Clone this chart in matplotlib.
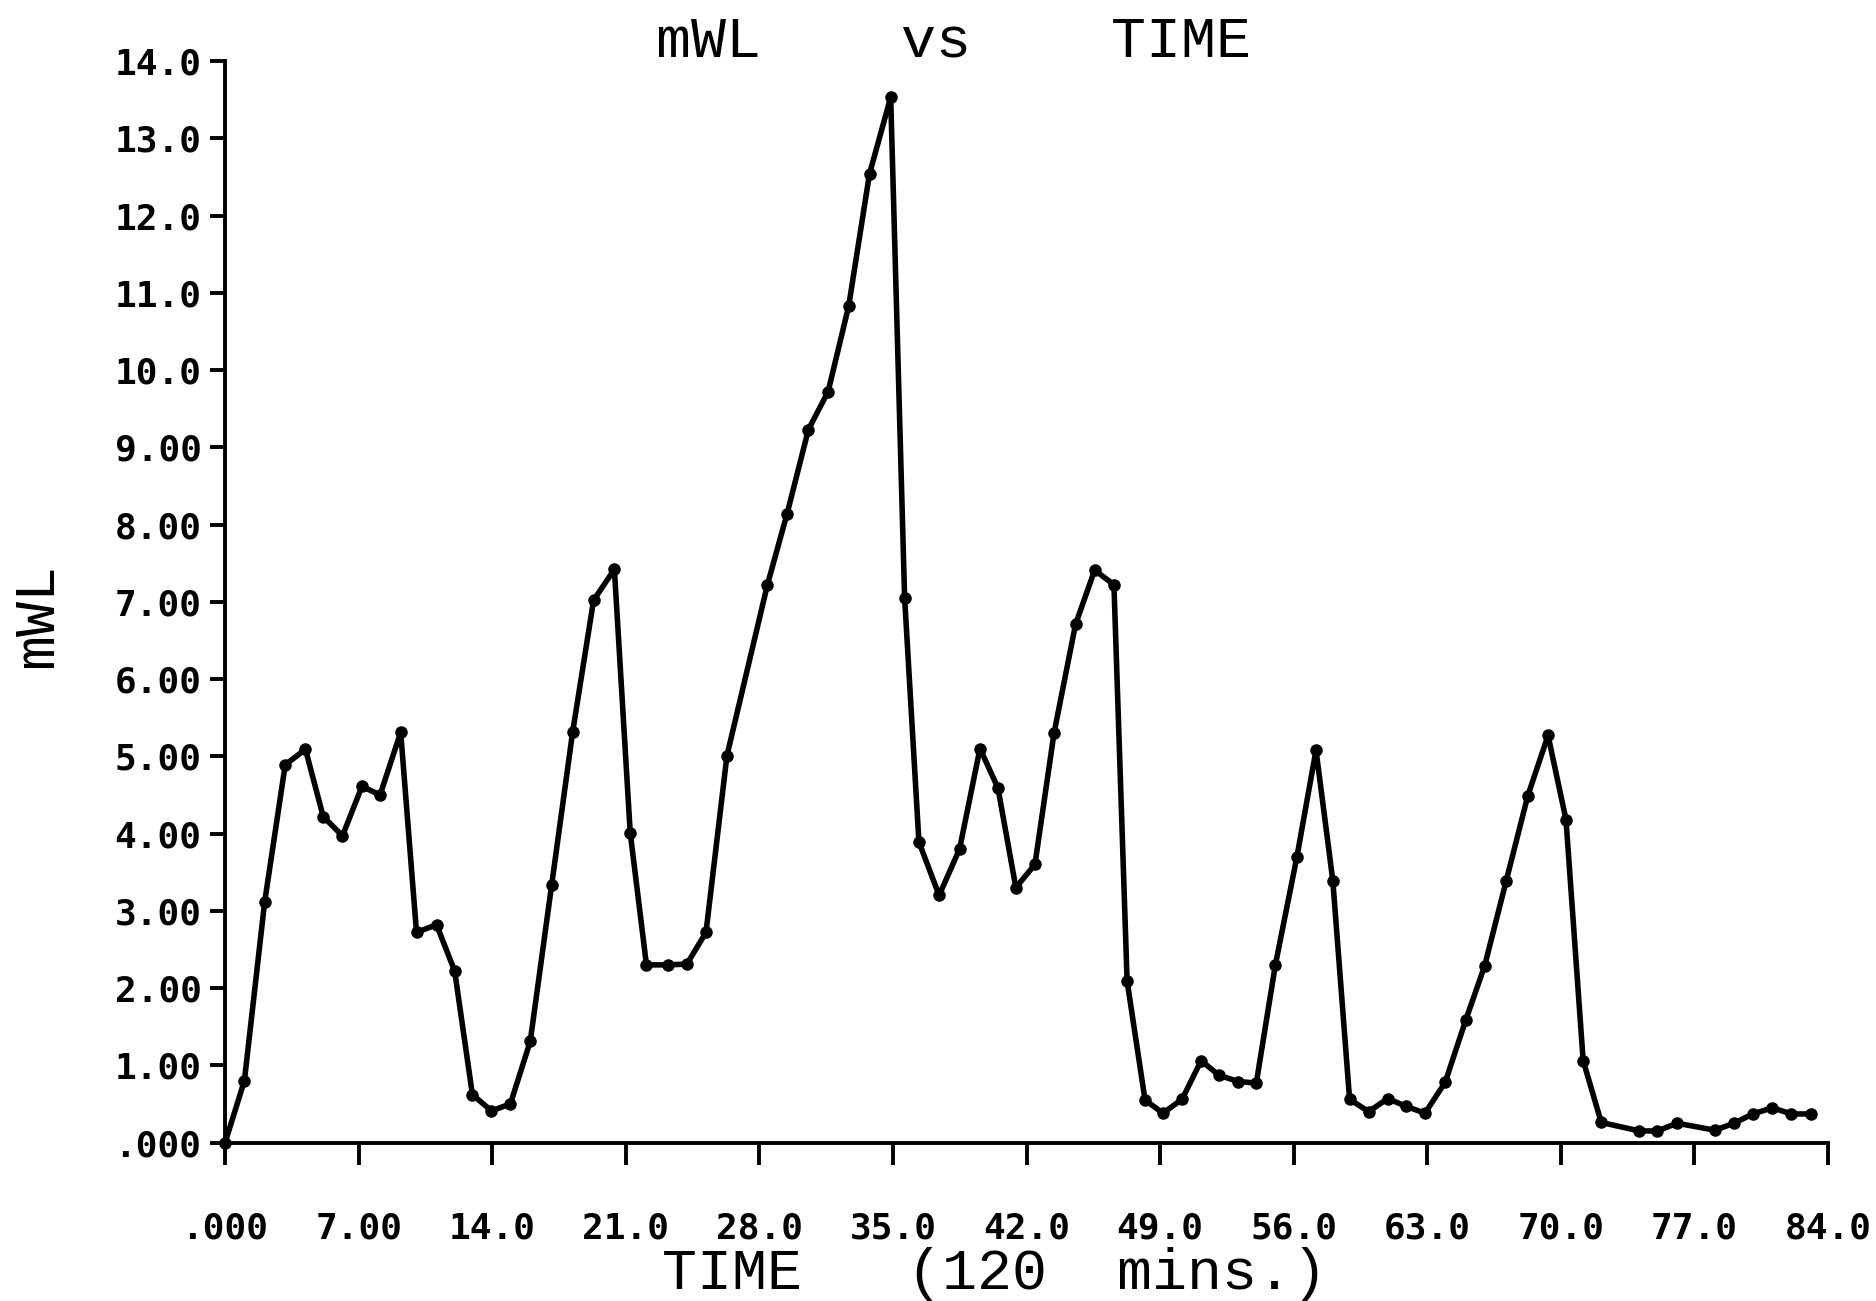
import matplotlib
matplotlib.use("Agg")
import matplotlib.pyplot as plt

# ---- data ----
time = [0, 1.01, 2.07, 3.15, 4.21, 5.14, 6.15, 7.17, 8.12, 9.2, 10.03, 11.08,
        12.03, 12.96, 13.96, 14.95, 15.99, 17.11, 18.21, 19.31, 20.4, 21.23,
        22.08, 23.19, 24.20, 25.20, 26.3, 28.42, 29.45, 30.57, 31.6, 32.68,
        33.77, 34.88, 35.61, 36.36, 37.42, 38.49, 39.56, 40.50, 41.44, 42.44,
        43.44, 44.57, 45.57, 46.58, 47.27, 48.21, 49.15, 50.15, 51.15, 52.09,
        53.10, 54.04, 55.04, 56.17, 57.17, 58.05, 58.93, 59.93, 60.93, 61.87,
        62.88, 63.94, 65.01, 66.01, 67.14, 68.27, 69.33, 70.27, 71.17, 72.12,
        74.11, 75.06, 76.09, 78.07, 79.08, 80.06, 81.09, 82.08, 83.11]
mwl = [0.00, 0.80, 3.11, 4.89, 5.09, 4.22, 3.97, 4.61, 4.50, 5.31, 2.72, 2.82,
       2.22, 0.62, 0.41, 0.50, 1.31, 3.33, 5.31, 7.02, 7.42, 4.01, 2.30, 2.30,
       2.31, 2.72, 5.01, 7.22, 8.14, 9.23, 9.72, 10.83, 12.54, 13.53, 7.05, 3.89,
       3.20, 3.80, 5.10, 4.59, 3.30, 3.60, 5.30, 6.71, 7.41, 7.22, 2.09, 0.55,
       0.38, 0.56, 1.06, 0.87, 0.79, 0.77, 2.30, 3.70, 5.08, 3.39, 0.56, 0.40,
       0.57, 0.47, 0.38, 0.78, 1.58, 2.29, 3.39, 4.49, 5.27, 4.18, 1.06, 0.26,
       0.15, 0.15, 0.25, 0.16, 0.25, 0.37, 0.45, 0.37, 0.37]

x_ticks = [0, 7, 14, 21, 28, 35, 42, 49, 56, 63, 70, 77, 84]
x_tick_labels = [".000", "7.00", "14.0", "21.0", "28.0", "35.0", "42.0",
                 "49.0", "56.0", "63.0", "70.0", "77.0", "84.0"]
y_ticks = list(range(0, 15))
y_tick_labels = [".000", "1.00", "2.00", "3.00", "4.00", "5.00", "6.00",
                 "7.00", "8.00", "9.00", "10.0", "11.0", "12.0", "13.0", "14.0"]

title_text = "mWL    vs    TIME"
x_label = "TIME   (120  mins.)"
y_label = "mWL"

# ---- figure ----
fig = plt.figure(figsize=(18.76, 13.01), dpi=100)
ax = fig.add_axes([0.120, 0.1218, 0.8544, 0.8313])

ax.plot(time, mwl, color="black", linewidth=4.0, marker="o", markersize=8,
        markerfacecolor="black", markeredgecolor="black", clip_on=False,
        solid_joinstyle="round")

ax.set_xlim(0, 84)
ax.set_ylim(0, 14)

for s in ("top", "right"):
    ax.spines[s].set_visible(False)
for s in ("left", "bottom"):
    ax.spines[s].set_linewidth(2.8)
    ax.spines[s].set_color("black")

tick_font = dict(family=["DejaVu Sans Mono"], weight="bold", size=26)
ax.set_xticks(x_ticks)
ax.set_xticklabels(x_tick_labels, fontdict=tick_font)
ax.set_yticks(y_ticks)
ax.set_yticklabels(y_tick_labels, fontdict=tick_font)
ax.tick_params(axis="x", direction="out", length=16, width=2.8, pad=34)
ax.tick_params(axis="y", direction="out", length=11, width=2.8, pad=6)

label_font = dict(family=["Liberation Mono", "DejaVu Sans Mono"], size=42,
                  weight="normal")
fig.text(0.5085, 0.968, title_text, ha="center", va="center", **label_font)
fig.text(0.530, 0.021, x_label, ha="center", va="center", **label_font)
fig.text(0.020, 0.527, y_label, ha="center", va="center", rotation=90,
         **label_font)

fig.savefig("out.png", dpi=100, facecolor="white")
